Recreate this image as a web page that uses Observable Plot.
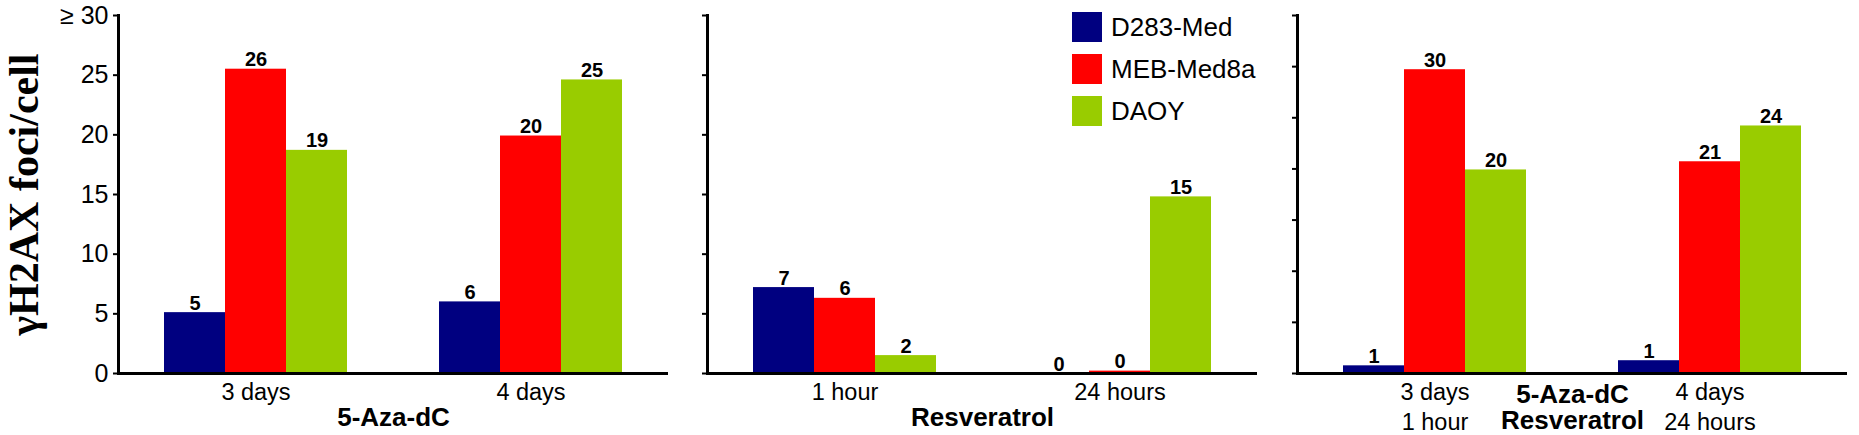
<!DOCTYPE html>
<html><head><meta charset="utf-8">
<script src="https://cdn.jsdelivr.net/npm/d3@7"></script>
<script src="https://cdn.jsdelivr.net/npm/@observablehq/plot@0.6"></script>
<style>
body{margin:0;background:#fff;font-family:Arial,"Liberation Sans",sans-serif;}
#wrap{position:relative;width:1859px;height:435px;overflow:hidden;background:#fff;}
#wrap svg{position:absolute;top:0;}
#legend{position:absolute;left:1072px;top:12px;}
.li{display:flex;align-items:center;height:30px;margin-bottom:12px;font-size:26px;color:#000;white-space:nowrap;}
.sw{width:30px;height:30px;margin-right:9px;flex:none;}
</style></head><body><div id="wrap"></div>
<script>
const seriesNames = ["D283-Med", "MEB-Med8a", "DAOY"];
const seriesColors = ["#000080", "#ff0000", "#99cc00"];

const azaGroups = ["3 days", "4 days"];
const azaD283 = [5.1, 6.0];
const azaMEB = [25.5, 19.9];
const azaDAOY = [18.7, 24.6];

const resGroups = ["1 hour", "24 hours"];
const resD283 = [7.2, 0];
const resMEB = [6.3, 0.2];
const resDAOY = [1.5, 14.8];

const comboGroups = ["3 days\n1 hour", "4 days\n24 hours"];
const comboD283 = [0.75, 1.25];
const comboMEB = [29.7, 20.7];
const comboDAOY = [19.9, 24.2];

const yTicks30 = [0, 5, 10, 15, 20, 25, 30];
const yTicks35 = [0, 5, 10, 15, 20, 25, 30, 35];

const yTitle = "γH2AX foci/cell";
const azaTitle = "5-Aza-dC";
const resTitle = "Resveratrol";
const comboTitle = "5-Aza-dC\nResveratrol";

function rows(groups, cols) {
  const out = [];
  groups.forEach((g, gi) => cols.forEach((c, si) => out.push({group: g, series: seriesNames[si], value: c[gi]})));
  return out;
}

const SANS = "Arial, 'Liberation Sans', sans-serif";

function panel({data, groups, yMax, ticks, tickFormat, title, titleOffset, titleLineHeight, marginLeft, marginRight, width, left, withYTitle}) {
  const marks = [
    Plot.barY(data, {fx: "group", x: "series", y: "value", fill: "series"}),
    Plot.text(data, {fx: "group", x: "series", y: "value", text: d => String(Math.round(d.value)),
      lineAnchor: "bottom", dy: -3, fontSize: 20, fontWeight: "bold", fill: "#000"}),
    Plot.ruleY([0], {stroke: "#000", strokeWidth: 3}),
    Plot.frame({anchor: "left", fx: [groups[0]], stroke: "#000", strokeWidth: 3}),
    Plot.axisY({ticks, tickSize: 5, tickPadding: 5, tickFormat, fontSize: 25, label: null, strokeWidth: 2}),
    Plot.axisFx({anchor: "bottom", tickSize: 0, tickPadding: 5, fontSize: 23.5, lineHeight: 1.28, label: null}),
    Plot.axisFx({anchor: "bottom", tickSize: 0, tickFormat: () => "", label: title, labelAnchor: "center",
      labelOffset: titleOffset, fontSize: 26, fontWeight: "bold", lineHeight: titleLineHeight, labelArrow: "none"})
  ];
  if (withYTitle) {
    marks.push(Plot.axisY({ticks: [0], tickSize: 0, tickFormat: () => "", label: yTitle, labelAnchor: "center",
      labelArrow: "none", labelOffset: 110, fontSize: 42, fontWeight: "bold",
      fontFamily: "'Liberation Serif', 'Times New Roman', serif"}));
  }
  const svg = Plot.plot({
    width, height: 435, marginTop: 15, marginBottom: 62, marginLeft, marginRight,
    style: {fontFamily: SANS, color: "#000", background: "transparent", overflow: "visible"},
    fx: {domain: groups, padding: 0},
    x: {domain: seriesNames, paddingInner: 0, paddingOuter: 0.754, axis: null},
    y: {domain: [0, yMax], labelArrow: "none"},
    color: {domain: seriesNames, range: seriesColors},
    marks
  });
  svg.style.left = left + "px";
  return svg;
}

const wrap = document.getElementById("wrap");
wrap.appendChild(panel({
  data: rows(azaGroups, [azaD283, azaMEB, azaDAOY]), groups: azaGroups, yMax: 30, ticks: yTicks30,
  tickFormat: d => d === 30 ? "≥ 30" : String(d), title: azaTitle, titleOffset: 52, titleLineHeight: 1.2,
  marginLeft: 118, marginRight: 19, width: 687, left: 0, withYTitle: true
}));
wrap.appendChild(panel({
  data: rows(resGroups, [resD283, resMEB, resDAOY]), groups: resGroups, yMax: 30, ticks: yTicks30,
  tickFormat: () => "", title: resTitle, titleOffset: 52, titleLineHeight: 1.2,
  marginLeft: 20, marginRight: 20, width: 590, left: 687, withYTitle: false
}));
wrap.appendChild(panel({
  data: rows(comboGroups, [comboD283, comboMEB, comboDAOY]), groups: comboGroups, yMax: 35, ticks: yTicks35,
  tickFormat: () => "", title: comboTitle, titleOffset: 55, titleLineHeight: 1.2,
  marginLeft: 20, marginRight: 12, width: 582, left: 1277, withYTitle: false
}));

const legend = document.createElement("div");
legend.id = "legend";
seriesNames.forEach((name, i) => {
  const row = document.createElement("div");
  row.className = "li";
  const sw = document.createElement("div");
  sw.className = "sw";
  sw.style.background = seriesColors[i];
  const lab = document.createElement("span");
  lab.textContent = name;
  row.appendChild(sw); row.appendChild(lab);
  legend.appendChild(row);
});
wrap.appendChild(legend);
</script></body></html>
